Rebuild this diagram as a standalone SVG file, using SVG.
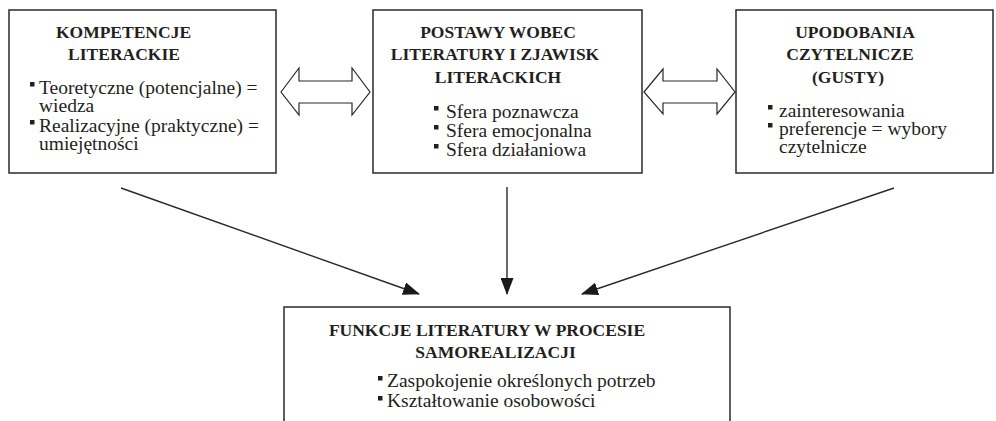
<svg xmlns="http://www.w3.org/2000/svg" width="996" height="421" viewBox="0 0 996 421">
<defs>
<style>
.box{fill:#fff;stroke:#2a2a2a;stroke-width:1.5}
.t{font-family:"Liberation Serif","Times New Roman",serif;font-weight:bold;font-size:17.5px;fill:#231f20;text-anchor:middle}
.b{font-family:"Liberation Serif","Times New Roman",serif;font-size:19.5px;fill:#231f20}
.dbl{fill:#fff;stroke:#2a2a2a;stroke-width:1.2;stroke-linejoin:miter}
.con{stroke:#2a2a2a;stroke-width:1.4;fill:none;marker-end:url(#ah)}
.bul{fill:#231f20}
</style>
<marker id="ah" viewBox="0 0 17 13" refX="16" refY="6.5" markerWidth="17" markerHeight="13" markerUnits="userSpaceOnUse" orient="auto">
<path d="M0,0 L17,6.5 L0,13 Z" fill="#1a1a1a"/>
</marker>
<rect id="sq" width="4.5" height="4.5"/>
</defs>
<rect width="996" height="421" fill="#fff"/>

<g id="kompetencje">
<rect class="box" x="9" y="10" width="267" height="163"/>
<text class="t" x="123.5" y="38">KOMPETENCJE<tspan x="124" y="60">LITERACKIE</tspan></text>
<use href="#sq" class="bul" x="30" y="82"/>
<text class="b" x="39" y="94">Teoretyczne (potencjalne) =<tspan x="39" y="112">wiedza</tspan></text>
<use href="#sq" class="bul" x="30" y="120"/>
<text class="b" x="39" y="132">Realizacyjne (praktyczne) =<tspan x="39" y="150">umiejętności</tspan></text>
</g>

<g id="postawy">
<rect class="box" x="373" y="10" width="269" height="163"/>
<text class="t" x="498" y="38">POSTAWY WOBEC<tspan x="495" y="60">LITERATURY I ZJAWISK</tspan><tspan x="498" y="83">LITERACKICH</tspan></text>
<use href="#sq" class="bul" x="434" y="106"/>
<text class="b" x="446" y="118">Sfera poznawcza</text>
<use href="#sq" class="bul" x="434" y="125"/>
<text class="b" x="446" y="137">Sfera emocjonalna</text>
<use href="#sq" class="bul" x="434" y="144"/>
<text class="b" x="446" y="156">Sfera działaniowa</text>
</g>

<g id="upodobania">
<rect class="box" x="736" y="10" width="257" height="163"/>
<text class="t" x="855" y="38">UPODOBANIA<tspan x="850" y="60">CZYTELNICZE</tspan><tspan x="848" y="83">(GUSTY)</tspan></text>
<use href="#sq" class="bul" x="768" y="105"/>
<text class="b" x="779" y="117">zainteresowania</text>
<use href="#sq" class="bul" x="768" y="123"/>
<text class="b" x="779" y="135">preferencje = wybory<tspan x="779" y="153">czytelnicze</tspan></text>
</g>

<g id="funkcje">
<rect class="box" x="284" y="307" width="446" height="130"/>
<text class="t" x="487" y="336">FUNKCJE LITERATURY W PROCESIE<tspan x="495.5" y="358">SAMOREALIZACJI</tspan></text>
<use href="#sq" class="bul" x="378" y="376"/>
<text class="b" x="387" y="387">Zaspokojenie określonych potrzeb</text>
<use href="#sq" class="bul" x="378" y="396"/>
<text class="b" x="387" y="407">Kształtowanie osobowości</text>
</g>

<g id="connectors">
<polygon class="dbl" points="281,92 299,68 299,81 352,81 352,68 370,92 352,115 352,103 299,103 299,115"/>
<polygon class="dbl" points="644,92 663,69 663,81 717,81 717,69 735,92 717,114 717,103 663,103 663,114"/>
<line class="con" x1="121" y1="188" x2="419" y2="294"/>
<line class="con" x1="507" y1="187" x2="507" y2="294"/>
<line class="con" x1="894" y1="188" x2="582" y2="294"/>
</g>
</svg>
